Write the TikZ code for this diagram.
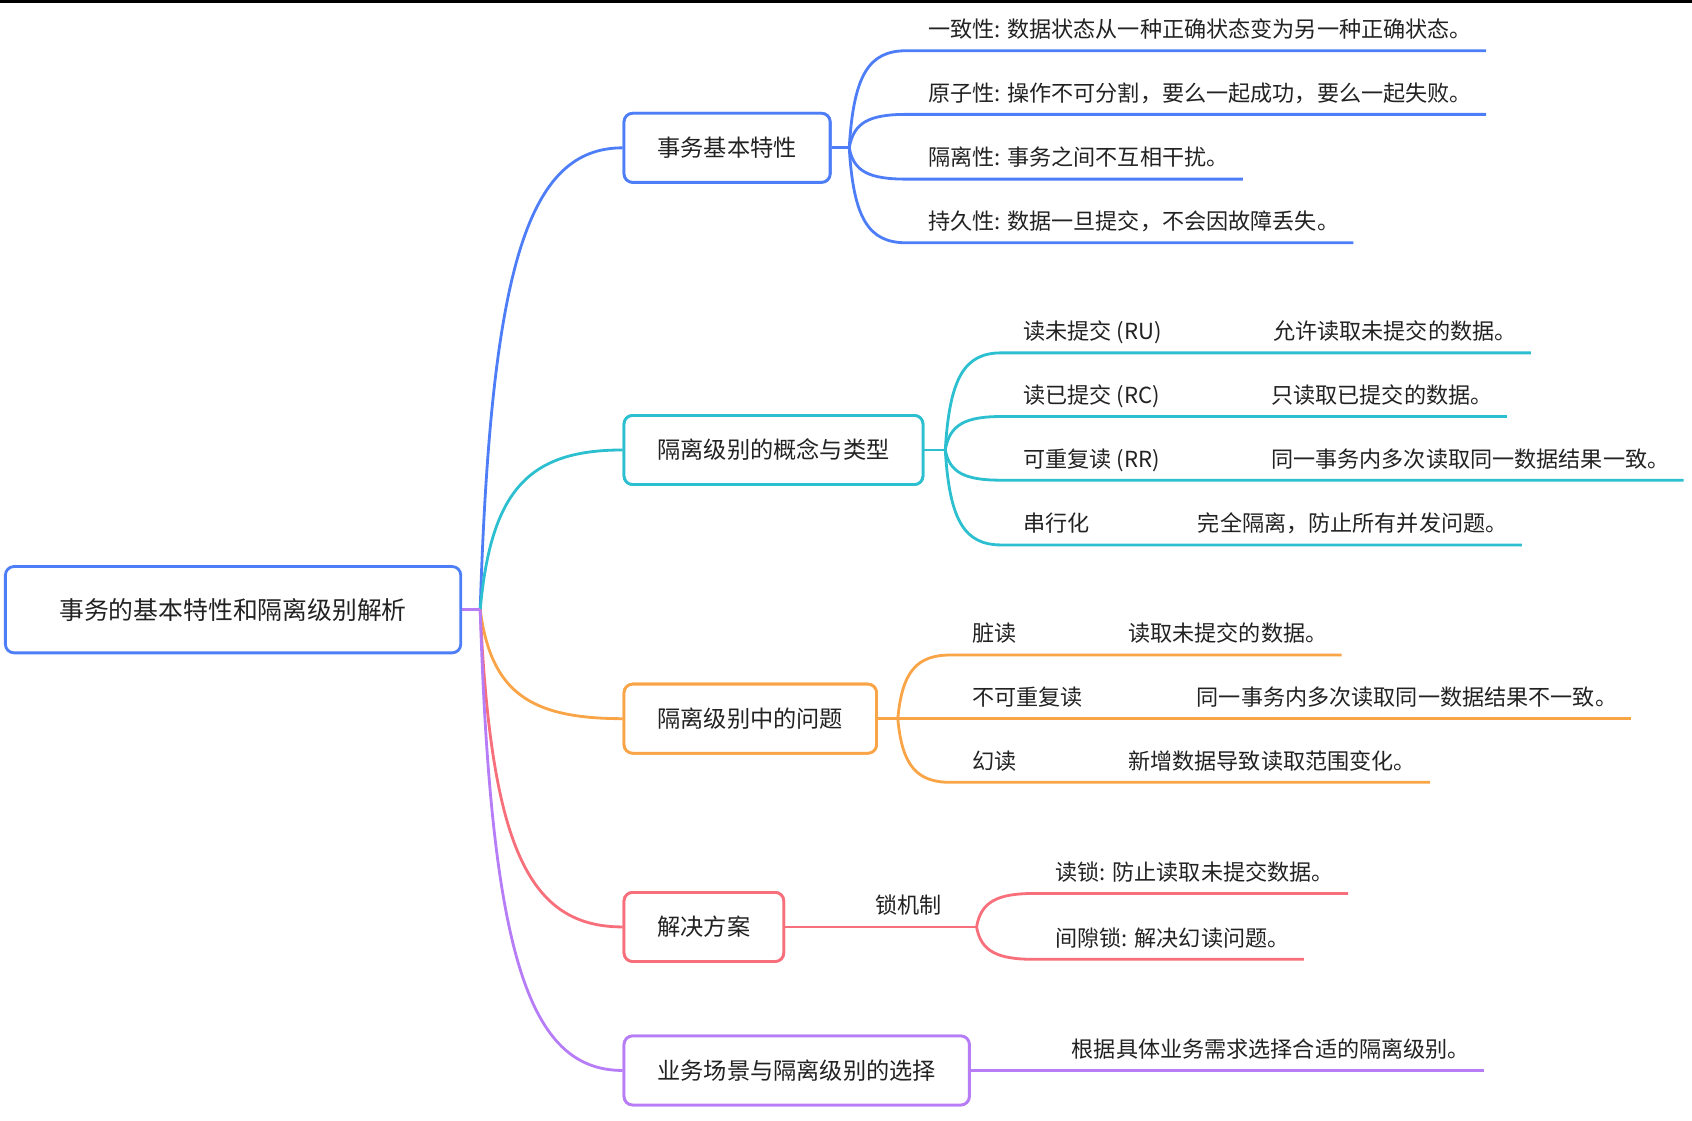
\documentclass[tikz,border=0pt]{standalone}
\usepackage{fontspec}
\setmainfont{Noto Sans CJK SC}
\usetikzlibrary{calc}
\definecolor{cblue}{HTML}{4D7EF7}
\definecolor{cteal}{HTML}{2BBFCF}
\definecolor{corange}{HTML}{F9A446}
\definecolor{cred}{HTML}{F76F7A}
\definecolor{cpurple}{HTML}{B67DF7}
\definecolor{ctext}{HTML}{222222}
\newcommand\mmcurve[5]{\draw[lnk,#1] (#2) .. controls ($(#2)!0.75!(#2|-#3)+(#4,0)$) and ($(#3)+(-#5,0)$) .. (#3)}
\newcommand\ue[1]{($(#1.south east)+(-7,0)$)}
\begin{document}
\begin{tikzpicture}[x=1pt,y=1pt,
  box/.style={draw, rounded corners=8pt, line width=2.6pt, fill=white, minimum height=64pt,
    inner xsep=31pt, anchor=west, text=ctext, font=\fontsize{21.5pt}{26pt}\selectfont},
  leaf/.style={anchor=south west, inner xsep=20pt, inner ysep=8pt, text height=16pt,
    text depth=4pt, text=ctext, font=\fontsize{20.5pt}{24pt}\selectfont},
  lnk/.style={line width=2.6pt}
]
\useasboundingbox (0,0) rectangle (1568,-1038);
\fill[black] (0,0) rectangle (1568,-3);

% root
\node[draw=cblue, rounded corners=8pt, line width=2.6pt, fill=white, minimum width=422pt,
  minimum height=80pt, text=ctext, font=\fontsize{23pt}{28pt}\selectfont] (root) at (216,-565)
  {事务的基本特性和隔离级别解析};
\coordinate (J0) at (445,-565);

% branch nodes (positions)
\path (577,-137) node[box, draw=cblue] (b1) {事务基本特性};
\path (577,-417) node[box, draw=cteal] (b2) {隔离级别的概念与类型};
\path (577,-666) node[box, draw=corange] (b3) {隔离级别中的问题};
\path (577,-859) node[box, draw=cred] (b4) {解决方案};
\path (577,-992) node[box, draw=cpurple] (b5) {业务场景与隔离级别的选择};

% root to branches
\mmcurve{cblue}{J0}{b1.west}{10}{87};
\mmcurve{cteal}{J0}{b2.west}{10}{87};
\mmcurve{corange}{J0}{b3.west}{10}{87};
\mmcurve{cred}{J0}{b4.west}{10}{87};
\mmcurve{cpurple}{J0}{b5.west}{10}{87};
\draw[lnk,cpurple] (root.east) -- (J0);

% redraw boxes on top
\path (577,-137) node[box, draw=cblue] {事务基本特性};
\path (577,-417) node[box, draw=cteal] {隔离级别的概念与类型};
\path (577,-666) node[box, draw=corange] {隔离级别中的问题};
\path (577,-859) node[box, draw=cred] {解决方案};
\path (577,-992) node[box, draw=cpurple] {业务场景与隔离级别的选择};

% ---- branch 1
\coordinate (J1) at (787,-137);
\draw[lnk,cblue] (b1.east) -- (J1);
\node[leaf] (a1) at (840,-47) {一致性: 数据状态从一种正确状态变为另一种正确状态。};
\node[leaf] (a2) at (840,-106) {原子性: 操作不可分割，要么一起成功，要么一起失败。};
\node[leaf] (a3) at (840,-166) {隔离性: 事务之间不互相干扰。};
\node[leaf] (a4) at (840,-225) {持久性: 数据一旦提交，不会因故障丢失。};
\mmcurve{cblue}{J1}{a1.south west}{4}{35} -- \ue{a1};
\mmcurve{cblue}{J1}{a2.south west}{4}{35} -- \ue{a2};
\mmcurve{cblue}{J1}{a3.south west}{4}{35} -- \ue{a3};
\mmcurve{cblue}{J1}{a4.south west}{4}{35} -- \ue{a4};

% ---- branch 2
\coordinate (J2) at (876,-417);
\draw[lnk,cteal] (b2.east) -- (J2);
\node[leaf] (k1) at (928,-327) {读未提交 (RU)};
\node[leaf] (k2) at (928,-386) {读已提交 (RC)};
\node[leaf] (k3) at (928,-445) {可重复读 (RR)};
\node[leaf] (k4) at (928,-505) {串行化};
\node[leaf] (v1) at ($(k1.south east)+(63,0)$) {允许读取未提交的数据。};
\node[leaf] (v2) at ($(k2.south east)+(63,0)$) {只读取已提交的数据。};
\node[leaf] (v3) at ($(k3.south east)+(63,0)$) {同一事务内多次读取同一数据结果一致。};
\node[leaf] (v4) at ($(k4.south east)+(60,0)$) {完全隔离，防止所有并发问题。};
\mmcurve{cteal}{J2}{k1.south west}{4}{34} -- (k1.south east) -- (v1.south west) -- \ue{v1};
\mmcurve{cteal}{J2}{k2.south west}{4}{34} -- (k2.south east) -- (v2.south west) -- \ue{v2};
\mmcurve{cteal}{J2}{k3.south west}{4}{34} -- (k3.south east) -- (v3.south west) -- \ue{v3};
\mmcurve{cteal}{J2}{k4.south west}{4}{34} -- (k4.south east) -- (v4.south west) -- \ue{v4};

% ---- branch 3
\coordinate (J3) at (832,-666);
\draw[lnk,corange] (b3.east) -- (J3);
\node[leaf] (p1) at (881,-607) {脏读};
\node[leaf] (p2) at (881,-666) {不可重复读};
\node[leaf] (p3) at (881,-725) {幻读};
\node[leaf] (q1) at ($(p1.south east)+(63,0)$) {读取未提交的数据。};
\node[leaf] (q2) at ($(p2.south east)+(65,0)$) {同一事务内多次读取同一数据结果不一致。};
\node[leaf] (q3) at ($(p3.south east)+(63,0)$) {新增数据导致读取范围变化。};
\mmcurve{corange}{J3}{p1.south west}{4}{31} -- (p1.south east) -- (q1.south west) -- \ue{q1};
\draw[lnk,corange] (J3) -- (p2.south west) -- (p2.south east) -- (q2.south west) -- \ue{q2};
\mmcurve{corange}{J3}{p3.south west}{4}{31} -- (p3.south east) -- (q3.south west) -- \ue{q3};

% ---- branch 4
\coordinate (J4) at (905,-859);
\node[leaf, anchor=south] (lock) at (842,-859) {锁机制};
\draw[lnk,cred] (b4.east) -- (J4);
\node[leaf] (r1) at (958,-828) {读锁: 防止读取未提交数据。};
\node[leaf] (r2) at (958,-889) {间隙锁: 解决幻读问题。};
\mmcurve{cred}{J4}{r1.south west}{4}{34} -- \ue{r1};
\mmcurve{cred}{J4}{r2.south west}{4}{34} -- \ue{r2};

% ---- branch 5
\node[leaf] (s1) at (973,-992) {根据具体业务需求选择合适的隔离级别。};
\draw[lnk,cpurple] (b5.east) -- \ue{s1};
\end{tikzpicture}
\end{document}
